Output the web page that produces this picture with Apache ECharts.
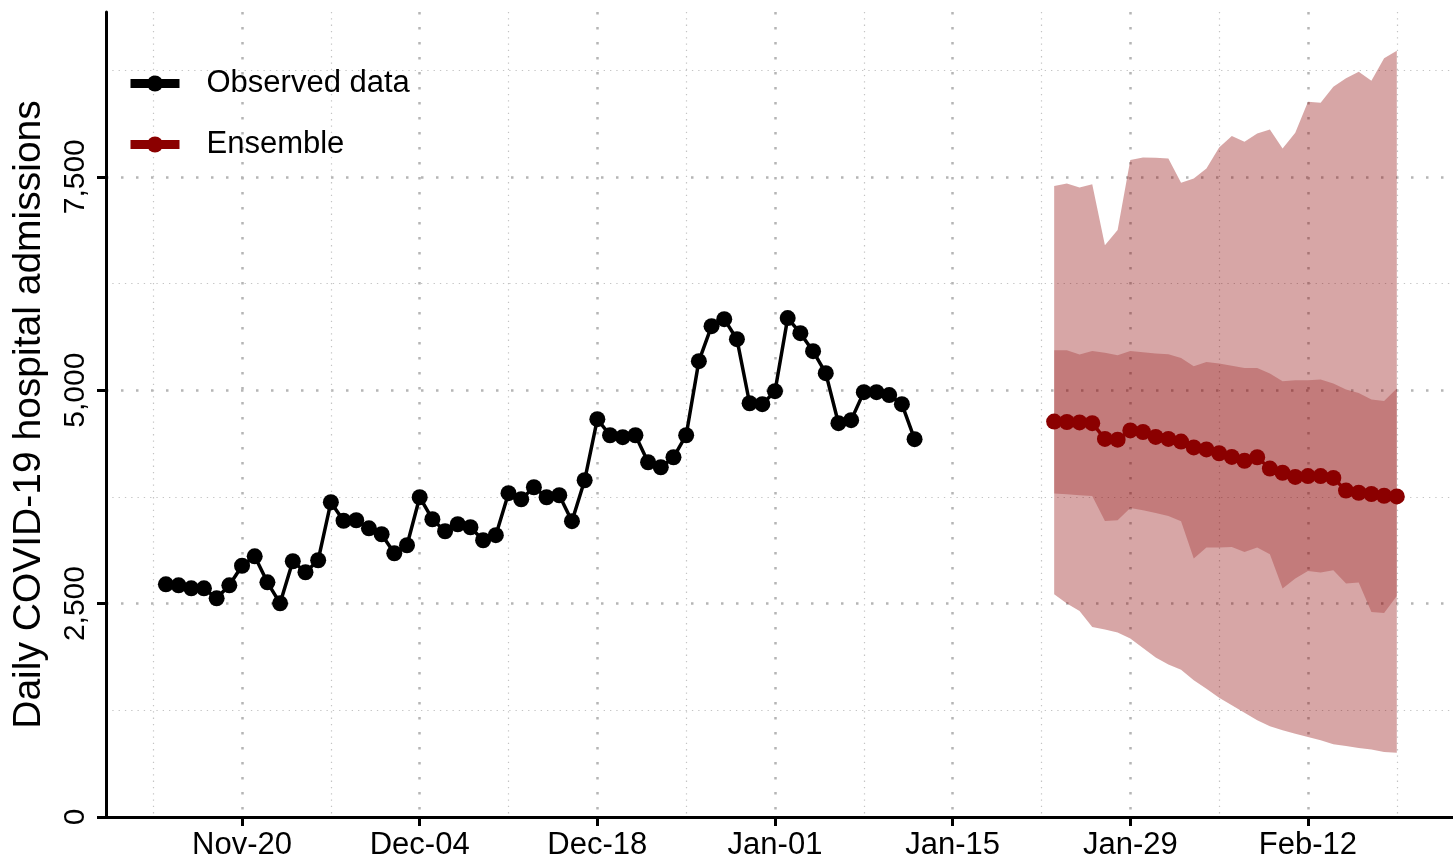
<!DOCTYPE html>
<html><head><meta charset="utf-8">
<script src="https://cdn.jsdelivr.net/npm/echarts@6/dist/echarts.min.js"></script>
<style>html,body{margin:0;padding:0;background:#fff}#chart{width:1453px;height:862px}</style>
</head><body><div id="chart"></div>
<script>
// ---------- data ----------
const obsStartDate = '2022-11-14';
const obsValues = [2726, 2714, 2679, 2679, 2562, 2714, 2943, 3054, 2749, 2503,
  2996, 2867, 3008, 3687, 3470, 3476, 3382, 3312, 3090, 3183,
  3746, 3488, 3347, 3429, 3394, 3242, 3301, 3793, 3722, 3863,
  3746, 3769, 3465, 3945, 4660, 4472, 4449, 4472, 4156, 4097,
  4214, 4472, 5340, 5750, 5832, 5597, 4847, 4836, 4988, 5844,
  5668, 5457, 5199, 4613, 4649, 4977, 4977, 4942, 4836, 4426];

const ensStartDate = '2023-01-23';
const ensMedian = [4632, 4627, 4622, 4613, 4429, 4420, 4529, 4510, 4452, 4429,
  4398, 4329, 4306, 4261, 4218, 4173, 4214, 4082, 4033, 3984,
  3994, 3994, 3972, 3824, 3798, 3784, 3763, 3755];
const ensLower50 = [3789, 3781, 3769, 3761, 3468, 3476, 3620, 3593, 3562, 3527,
  3464, 3027, 3156, 3156, 3163, 3105, 3156, 3078, 2676, 2793,
  2882, 2863, 2890, 2734, 2746, 2401, 2390, 2589];
const ensUpper50 = [5469, 5469, 5418, 5460, 5437, 5410, 5460, 5445, 5430, 5422,
  5378, 5281, 5331, 5313, 5285, 5261, 5261, 5196, 5105, 5117,
  5117, 5125, 5078, 5008, 4968, 4891, 4874, 5020];
const ensLower95 = [2609, 2500, 2413, 2226, 2195, 2160, 2090, 1980, 1867, 1785,
  1726, 1601, 1503, 1398, 1308, 1222, 1132, 1062, 1015, 976,
  936, 898, 851, 831, 808, 792, 761, 754];
const ensUpper95 = [7391, 7422, 7375, 7411, 6699, 6875, 7696, 7727, 7722, 7715,
  7429, 7481, 7598, 7844, 7977, 7910, 8008, 8055, 7832, 8015,
  8379, 8367, 8554, 8653, 8730, 8625, 8887, 8976];

const xTickDates = ['2022-11-20', '2022-12-04', '2022-12-18', '2023-01-01', '2023-01-15', '2023-01-29', '2023-02-12'];
const xMinorDates = ['2022-11-13', '2022-11-27', '2022-12-11', '2022-12-25', '2023-01-08', '2023-01-22', '2023-02-05', '2023-02-19'];
const yTicks = [0, 2500, 5000, 7500];
const yMinorTicks = [1250, 3750, 6250, 8750];
const monthNames = ['Jan', 'Feb', 'Mar', 'Apr', 'May', 'Jun', 'Jul', 'Aug', 'Sep', 'Oct', 'Nov', 'Dec'];
const seriesNames = ['Observed data', 'Ensemble'];

// ---------- helpers ----------
const DAY = 86400000;
function dayNum(s) { const p = s.split('-').map(Number); return Date.UTC(p[0], p[1] - 1, p[2]) / DAY; }
function days(start, n) { const d0 = dayNum(start); return Array.from({ length: n }, (_, i) => d0 + i); }
function fmtDay(v) { const d = new Date(Math.round(v) * DAY); return monthNames[d.getUTCMonth()] + '-' + String(d.getUTCDate()).padStart(2, '0'); }
function fmtNum(v) { return Math.round(v).toString().replace(/\B(?=(\d{3})+(?!\d))/g, ','); }

const obsX = days(obsStartDate, obsValues.length);
const ensX = days(ensStartDate, ensMedian.length);
const xMin = dayNum('2022-11-09') + 0.28;
const xMax = dayNum('2023-02-23') + 0.43;
const yMax = 9430;

const FONT = 'Liberation Sans, Arial, Helvetica, sans-serif';
const RED = '#8b0000';
const majorGrid = { color: '#b5b5b5', width: 2.5, type: [2.5, 12.5] };
const minorGrid = { color: '#c4c4c4', width: 1.2, type: [1.3, 5] };

// band polygon drawn through the axis scales (api.coord)
function bandRender(fill) {
  return function (params, api) {
    if (params.dataIndex !== 0) return null;
    const n = params.dataInsideLength;
    const upper = [], lower = [];
    for (let j = 0; j < n; j++) {
      upper.push(api.coord([api.value(0, j), api.value(2, j)]));
      lower.push(api.coord([api.value(0, j), api.value(1, j)]));
    }
    return { type: 'polygon', shape: { points: upper.concat(lower.reverse()) }, style: { fill: fill }, silent: true };
  };
}

const chart = echarts.init(document.getElementById('chart'), null, { renderer: 'canvas' });
chart.setOption({
  animation: false,
  backgroundColor: '#ffffff',
  grid: { left: 106, right: 0, top: 12, bottom: 45, containLabel: false, outerBoundsMode: 'none' },
  legend: {
    data: seriesNames,
    orient: 'vertical',
    left: 121, top: 63,
    itemWidth: 49, itemHeight: 20, itemGap: 30,
    lineStyle: { width: 9 },
    textStyle: { fontSize: 31, color: '#000', fontFamily: FONT, padding: [0, 0, 0, 22] }
  },
  xAxis: [{
    type: 'value', min: xMin, max: xMax,
    axisLine: { show: true, lineStyle: { color: '#000', width: 3 } },
    axisTick: { show: true, customValues: xTickDates.map(dayNum), length: 9, lineStyle: { color: '#000', width: 3 } },
    axisLabel: { customValues: xTickDates.map(dayNum), formatter: fmtDay, fontSize: 31, color: '#000', fontFamily: FONT, margin: 13 },
    splitLine: { show: true, lineStyle: majorGrid }
  }, {
    type: 'value', min: xMin, max: xMax, position: 'bottom',
    axisLine: { show: false },
    axisTick: { show: false, customValues: xMinorDates.map(dayNum) },
    axisLabel: { show: false, customValues: xMinorDates.map(dayNum) },
    splitLine: { show: true, lineStyle: minorGrid }
  }],
  yAxis: [{
    type: 'value', min: 0, max: yMax,
    name: 'Daily COVID-19 hospital admissions', nameLocation: 'middle', nameRotate: 90, nameGap: 57,
    nameTextStyle: { fontSize: 39, color: '#000', fontFamily: FONT },
    axisLine: { show: true, lineStyle: { color: '#000', width: 3 } },
    axisTick: { show: true, customValues: yTicks, length: 9, lineStyle: { color: '#000', width: 3 } },
    axisLabel: { customValues: yTicks, formatter: fmtNum, rotate: 90, fontSize: 30, color: '#000', fontFamily: FONT, margin: 15 },
    splitLine: { show: true, lineStyle: majorGrid }
  }, {
    type: 'value', min: 0, max: yMax, position: 'left',
    axisLine: { show: false },
    axisTick: { show: false, customValues: yMinorTicks },
    axisLabel: { show: false, customValues: yMinorTicks },
    splitLine: { show: true, lineStyle: minorGrid }
  }],
  series: [
    { name: 'band95', type: 'custom', renderItem: bandRender('rgba(139,0,0,0.35)'),
      data: ensX.map((x, i) => [x, ensLower95[i], ensUpper95[i]]), encode: { x: 0, y: [1, 2] }, silent: true, z: 1, clip: true },
    { name: 'band50', type: 'custom', renderItem: bandRender('rgba(139,0,0,0.26)'),
      data: ensX.map((x, i) => [x, ensLower50[i], ensUpper50[i]]), encode: { x: 0, y: [1, 2] }, silent: true, z: 2, clip: true },
    { name: 'Ensemble', type: 'line', data: ensX.map((x, i) => [x, ensMedian[i]]),
      symbol: 'circle', symbolSize: 16, showAllSymbol: true,
      lineStyle: { color: RED, width: 3.5 }, itemStyle: { color: RED }, z: 3 },
    { name: 'Observed data', type: 'line', data: obsX.map((x, i) => [x, obsValues[i]]),
      symbol: 'circle', symbolSize: 16, showAllSymbol: true,
      lineStyle: { color: '#000', width: 3.5 }, itemStyle: { color: '#000' }, z: 3 }
  ]
});
</script></body></html>
